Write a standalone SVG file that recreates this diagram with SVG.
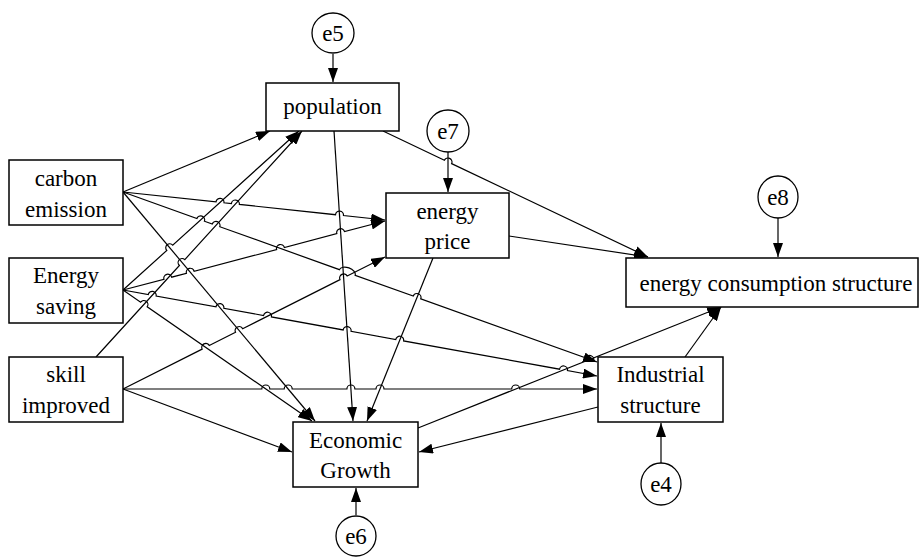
<svg xmlns="http://www.w3.org/2000/svg" width="921" height="557" viewBox="0 0 921 557">
<style>
.box{fill:#fff;stroke:#000;stroke-width:1.5}
.err{fill:#fff;stroke:#000;stroke-width:1.3}
.t{font-family:"Liberation Serif","Times New Roman",serif;font-size:23px;fill:#000;text-anchor:middle}
.c line,.c path{stroke:#000;stroke-width:1.2;fill:none;marker-end:url(#ah)}
</style>
<defs>
<marker id="ah" markerUnits="userSpaceOnUse" markerWidth="14" markerHeight="10" refX="14" refY="5" orient="auto">
<path d="M0,0 L14,5 L0,10 z" fill="#000"/>
</marker>
</defs>
<g id="connectors" class="c">
<line x1="123" y1="192" x2="270" y2="131"/>
<path d="M123,192 L216.02,201.94 A4,4 0 0 1 223.98,202.80 L231.42,203.59 A4,4 0 0 1 239.38,204.44 L335.52,214.72 A4,4 0 0 1 343.48,215.57 L385,220"/>
<path d="M123,192 L196.89,218.50 A4,4 0 0 1 204.42,221.20 L212.24,224.01 A4,4 0 0 1 219.77,226.71 L339.44,269.63 A8.36,5 19.7 0 1 355.17,275.27 L413.24,296.10 A4,4 0 0 1 420.77,298.80 L586.04,358.07 A4,4 0 0 1 593.57,360.77 L597,362"/>
<line x1="123" y1="192" x2="315" y2="421"/>
<path d="M123,290 L166.78,250.45 A4,4 0 0 1 172.72,245.09 L299,131"/>
<path d="M123,290 L163.93,279.22 A4,4 0 0 1 171.67,277.18 L186.43,273.29 A4,4 0 0 1 194.17,271.25 L276.63,249.54 A4,4 0 0 1 284.37,247.50 L336.83,233.68 A4,4 0 0 1 344.57,231.64 L385,221"/>
<path d="M123,290 L148.26,294.58 A4,4 0 0 1 156.14,296.00 L215.96,306.87 A4,4 0 0 1 223.84,308.29 L263.56,315.50 A4,4 0 0 1 271.44,316.92 L343.16,329.94 A4,4 0 0 1 351.04,331.36 L395.76,339.49 A4,4 0 0 1 403.64,340.91 L559.56,369.21 A4,4 0 0 1 567.44,370.63 L597,376"/>
<path d="M123,290 L140.61,302.21 A4,4 0 0 1 147.19,306.77 L312,421"/>
<path d="M96,357 L179.41,265.50 A4,4 0 0 1 184.80,259.58 L302,131"/>
<path d="M123,389 L202.13,349.13 A4,4 0 0 1 209.27,345.53 L235.53,332.31 A4,4 0 0 1 242.67,328.71 L340.03,279.66 A4,4 0 0 1 347.17,276.06 L385,257"/>
<path d="M123,389 L261.8,389 A4,4 0 0 1 269.8,389 L284.2,389 A4,4 0 0 1 292.2,389 L346.9,389 A4,4 0 0 1 354.9,389 L376,389 A4,4 0 0 1 384,389 L511.7,389 A4,4 0 0 1 519.7,389 L597,389"/>
<line x1="123" y1="389" x2="292" y2="452"/>
<line x1="334" y1="131" x2="353" y2="421"/>
<path d="M383,131 L444.39,160.18 A4,4 0 0 1 451.61,163.62 L648,257"/>
<line x1="509" y1="236" x2="648" y2="257"/>
<line x1="433" y1="258" x2="367" y2="421"/>
<line x1="418" y1="428" x2="721" y2="307"/>
<line x1="685" y1="357" x2="721" y2="307"/>
<line x1="598" y1="407" x2="419" y2="452"/>
<line x1="333" y1="54" x2="333" y2="82"/>
<line x1="448" y1="152" x2="448" y2="192"/>
<line x1="778" y1="218" x2="778" y2="257"/>
<line x1="661" y1="463" x2="661" y2="423"/>
<line x1="356" y1="515" x2="356" y2="488"/>
</g>
<g id="population"><rect class="box" x="266" y="83" width="133" height="48"/><text class="t" x="332.5" y="114">population</text></g>
<g id="carbon"><rect class="box" x="9" y="160" width="114" height="65"/><text class="t" x="66" y="186">carbon</text><text class="t" x="66" y="217">emission</text></g>
<g id="energysaving"><rect class="box" x="9" y="258" width="114" height="65"/><text class="t" x="66" y="283">Energy</text><text class="t" x="66" y="314">saving</text></g>
<g id="skill"><rect class="box" x="9" y="357" width="114" height="65"/><text class="t" x="66" y="382">skill</text><text class="t" x="66" y="413">improved</text></g>
<g id="energyprice"><rect class="box" x="386" y="193" width="123" height="65"/><text class="t" x="447.5" y="219">energy</text><text class="t" x="447.5" y="249">price</text></g>
<g id="ecs"><rect class="box" x="626" y="258" width="292" height="49"/><text class="t" x="776" y="291">energy consumption structure</text></g>
<g id="industrial"><rect class="box" x="598" y="357" width="125" height="65"/><text class="t" x="660.5" y="382">Industrial</text><text class="t" x="660.5" y="413">structure</text></g>
<g id="growth"><rect class="box" x="293" y="422" width="125" height="65"/><text class="t" x="355.5" y="448">Economic</text><text class="t" x="355.5" y="478">Growth</text></g>
<g id="e5"><ellipse class="err" cx="333" cy="33" rx="21" ry="20"/><text class="t" x="333" y="41">e5</text></g>
<g id="e7"><ellipse class="err" cx="448" cy="131" rx="21" ry="21"/><text class="t" x="448" y="139">e7</text></g>
<g id="e8"><ellipse class="err" cx="778" cy="197" rx="20" ry="21"/><text class="t" x="778" y="205">e8</text></g>
<g id="e4"><ellipse class="err" cx="661" cy="484" rx="20" ry="21"/><text class="t" x="661" y="492">e4</text></g>
<g id="e6"><ellipse class="err" cx="356" cy="536" rx="20" ry="20"/><text class="t" x="356" y="544">e6</text></g>
</svg>
